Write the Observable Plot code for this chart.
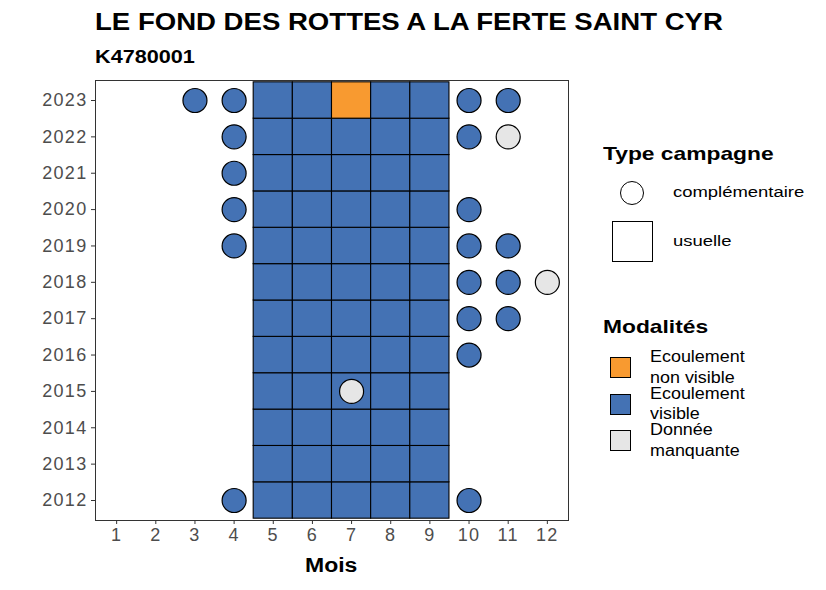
<!DOCTYPE html>
<html><head><meta charset="utf-8">
<script src="https://cdn.jsdelivr.net/npm/d3@7"></script>
<script src="https://cdn.jsdelivr.net/npm/@observablehq/plot@0.6"></script>
<style>
body{margin:0;background:#fff;font-family:"Liberation Sans",Arial,sans-serif;}
#wrap{position:relative;width:826px;height:590px;overflow:hidden;}
#chart{position:absolute;left:0;top:0;}
.t{position:absolute;white-space:nowrap;color:#000;}
.s{transform-origin:0 50%;transform:scaleX(1.17);}
</style></head>
<body><div id="wrap"><div id="chart"></div>
<div class="t s" style="left:95px;top:8px;font-size:24.5px;font-weight:bold;transform:scaleX(1.125);">LE FOND DES ROTTES A LA FERTE SAINT CYR</div>
<div class="t s" style="left:95px;top:46px;font-size:18.5px;font-weight:bold;">K4780001</div>
<div class="t s" style="left:305px;top:554px;font-size:20px;font-weight:bold;transform:scaleX(1.15);">Mois</div>
<div class="t s" style="left:603px;top:143px;font-size:19px;font-weight:bold;transform:scaleX(1.2);">Type campagne</div>
<div class="t" style="left:620px;top:181px;width:24px;height:24px;border:1.4px solid #000;border-radius:50%;box-sizing:border-box;"></div>
<div class="t s" style="left:673px;top:183px;font-size:15.5px;transform:scaleX(1.19);">complémentaire</div>
<div class="t" style="left:612px;top:221px;width:41px;height:41px;border:1.3px solid #000;box-sizing:border-box;"></div>
<div class="t s" style="left:673px;top:232px;font-size:15.5px;transform:scaleX(1.19);">usuelle</div>
<div class="t s" style="left:603px;top:316px;font-size:19px;font-weight:bold;transform:scaleX(1.2);">Modalités</div>
<div id="leg2"></div>
</div>
<script>
const months = [1,2,3,4,5,6,7,8,9,10,11,12];
const years = [2012,2013,2014,2015,2016,2017,2018,2019,2020,2021,2022,2023];
const modalites = ["Ecoulement non visible","Ecoulement visible","Donnée manquante"];
const modLabels = [["Ecoulement","non visible"],["Ecoulement","visible"],["Donnée","manquante"]];
const modColors = ["#F89A30","#4472B4","#E6E6E6"];

// usual campaign: months 5..9, per year (N = non visible, V = visible)
const usualMonths = [5,6,7,8,9];
const usualYears = [2012,2013,2014,2015,2016,2017,2018,2019,2020,2021,2022,2023];
const usualCodes = [
  ["V","V","V","V","V"],
  ["V","V","V","V","V"],
  ["V","V","V","V","V"],
  ["V","V","V","V","V"],
  ["V","V","V","V","V"],
  ["V","V","V","V","V"],
  ["V","V","V","V","V"],
  ["V","V","V","V","V"],
  ["V","V","V","V","V"],
  ["V","V","V","V","V"],
  ["V","V","V","V","V"],
  ["V","V","N","V","V"]
];
const codeMap = {V:"Ecoulement visible", N:"Ecoulement non visible", M:"Donnée manquante"};

// complementary campaign
const compYears  = [2023,2023,2023,2023,2022,2022,2022,2021,2020,2020,2019,2019,2019,2018,2018,2018,2017,2017,2016,2015,2012,2012];
const compMonths = [3,4,10,11,4,10,11,4,4,10,4,10,11,10,11,12,10,11,10,7,4,10];
const compCodes  = ["V","V","V","V","V","V","M","V","V","V","V","V","V","V","V","M","V","V","V","M","V","V"];

const usual = [];
usualYears.forEach((y,i)=>usualMonths.forEach((m,j)=>usual.push({annee:y,mois:m,mod:codeMap[usualCodes[i][j]]})));
const comp = compYears.map((y,i)=>({annee:y,mois:compMonths[i],mod:codeMap[compCodes[i]]}));

const chart = Plot.plot({
  width: 826, height: 590,
  marginLeft: 95, marginRight: 258, marginTop: 80, marginBottom: 70,
  style: {fontFamily:"Liberation Sans, Arial, sans-serif", fontSize:"18px", color:"#4d4d4d", background:"transparent", letterSpacing:"1.3px"},
  x: {domain:[0.46,12.54]},
  y: {domain:[2011.45,2023.55]},
  color: {domain: modalites, range: modColors},
  marks: [
    Plot.rect(usual, {x1:d=>d.mois-0.5, x2:d=>d.mois+0.5, y1:d=>d.annee-0.5, y2:d=>d.annee+0.5, fill:"mod", stroke:"#000", strokeWidth:1.1}),
    Plot.dot(comp, {x:"mois", y:"annee", r:12, fill:"mod", stroke:"#000", strokeWidth:1.2}),
    Plot.frame({stroke:"#333", strokeWidth:1}),
    Plot.axisX({ticks: months, tickFormat:d=>String(d), label:null, tickSize:4, tickPadding:4, fontSize:18, stroke:"#333", fill:"#4d4d4d"}),
    Plot.axisY({ticks: years, tickFormat:d=>String(d), label:null, tickSize:4, tickPadding:4, fontSize:18, stroke:"#333", fill:"#4d4d4d"})
  ]
});
document.getElementById("chart").appendChild(chart);

const leg = document.getElementById("leg2");
modalites.forEach((m,i)=>{
  const top = 357 + i*36.5;
  const sw = document.createElement("div");
  sw.className="t";
  sw.style.cssText = `left:610px;top:${top}px;width:21px;height:21px;border:1.3px solid #000;box-sizing:border-box;background:${modColors[i]};`;
  leg.appendChild(sw);
  const tx = document.createElement("div");
  tx.className="t s";
  tx.style.cssText = `left:650px;top:${top-10}px;font-size:16px;line-height:20.5px;color:#000;transform:scaleX(1.12);`;
  tx.innerHTML = modLabels[i].join("<br>");
  leg.appendChild(tx);
});
</script></body></html>
